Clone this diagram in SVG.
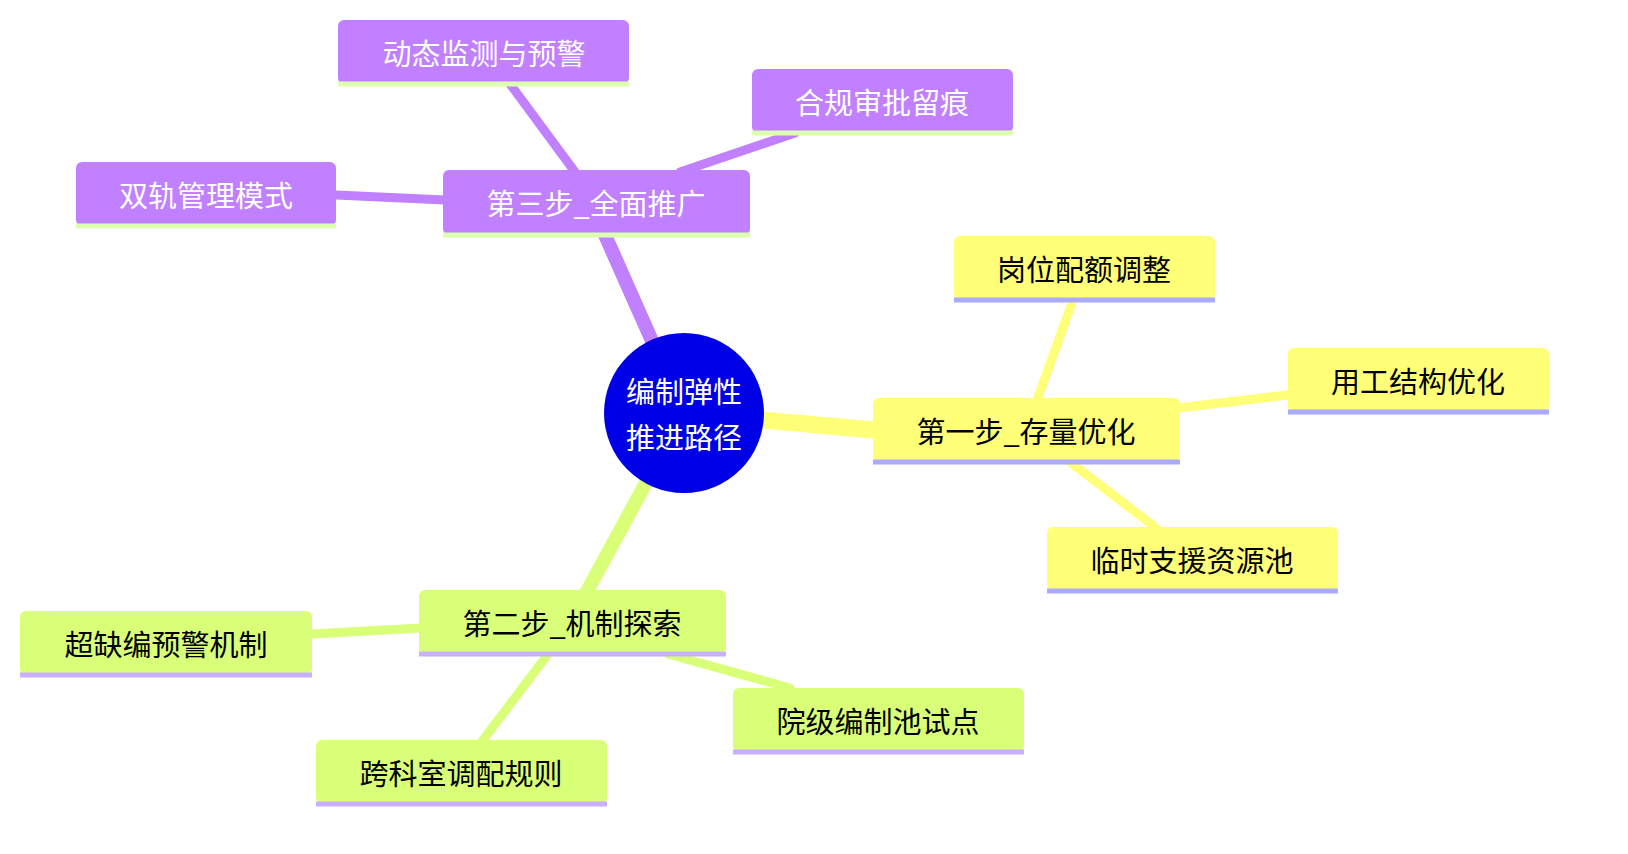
<svg xmlns="http://www.w3.org/2000/svg" width="1628" height="854" viewBox="0 0 1628 854">
<style>
text{font-family:"Noto Sans CJK SC","Noto Sans",sans-serif;font-size:29px;text-anchor:middle;dominant-baseline:central}
.p rect{fill:#c080ff}.p text{fill:#fff}.p line{stroke:#dcffb0}
.y rect{fill:#ffff78}.y text{fill:#000}.y line{stroke:#aaaaff}
.g rect{fill:#d9ff78}.g text{fill:#000}.g line{stroke:#c9b0ff}
.p line,.y line,.g line{stroke-width:5}
#edges line{stroke-linecap:round}
</style>
<rect width="1628" height="854" fill="#fff"/>
<g id="edges" fill="none">
<line x1="684" y1="413" x2="873" y2="430" stroke="#ffff78" stroke-width="17"/>
<line x1="684" y1="413" x2="605" y2="235" stroke="#c080ff" stroke-width="14"/>
<line x1="684" y1="413" x2="585" y2="595" stroke="#d9ff78" stroke-width="14"/>
<line x1="575" y1="172" x2="510" y2="84" stroke="#c080ff" stroke-width="9"/>
<line x1="680" y1="172" x2="795" y2="133" stroke="#c080ff" stroke-width="9"/>
<line x1="445" y1="200" x2="336" y2="195" stroke="#c080ff" stroke-width="9"/>
<line x1="1037" y1="400" x2="1073" y2="300" stroke="#ffff78" stroke-width="9"/>
<line x1="1178" y1="408" x2="1288" y2="395" stroke="#ffff78" stroke-width="9"/>
<line x1="1070" y1="462" x2="1155" y2="527" stroke="#ffff78" stroke-width="9"/>
<line x1="421" y1="628" x2="312" y2="634" stroke="#d9ff78" stroke-width="9"/>
<line x1="548" y1="654" x2="483" y2="740" stroke="#d9ff78" stroke-width="9"/>
<line x1="668" y1="654" x2="790" y2="688" stroke="#d9ff78" stroke-width="9"/>
</g>
<g id="root"><circle cx="684" cy="413" r="80" fill="#0000e6"/><text x="684" y="390" fill="#fff">编制弹性</text><text x="684" y="436" fill="#fff">推进路径</text></g>
<g id="s1" class="y"><rect x="873" y="398" width="307" height="64" rx="6"/><line x1="873" y1="462" x2="1180" y2="462"/><text x="1026" y="430">第一步_存量优化</text></g>
<g id="s1a" class="y"><rect x="954" y="236" width="261" height="64" rx="6"/><line x1="954" y1="300" x2="1215" y2="300"/><text x="1084" y="268">岗位配额调整</text></g>
<g id="s1b" class="y"><rect x="1288" y="348" width="261" height="64" rx="6"/><line x1="1288" y1="412" x2="1549" y2="412"/><text x="1418" y="380">用工结构优化</text></g>
<g id="s1c" class="y"><rect x="1047" y="527" width="291" height="64" rx="6"/><line x1="1047" y1="591" x2="1338" y2="591"/><text x="1192" y="559">临时支援资源池</text></g>
<g id="s3" class="p"><rect x="443" y="170" width="307" height="65" rx="6"/><line x1="443" y1="235" x2="750" y2="235"/><text x="596" y="202">第三步_全面推广</text></g>
<g id="s3a" class="p"><rect x="338" y="20" width="291" height="64" rx="6"/><line x1="338" y1="84" x2="629" y2="84"/><text x="484" y="52">动态监测与预警</text></g>
<g id="s3b" class="p"><rect x="752" y="69" width="261" height="64" rx="6"/><line x1="752" y1="133" x2="1013" y2="133"/><text x="882" y="101">合规审批留痕</text></g>
<g id="s3c" class="p"><rect x="76" y="162" width="260" height="64" rx="6"/><line x1="76" y1="226" x2="336" y2="226"/><text x="206" y="194">双轨管理模式</text></g>
<g id="s2" class="g"><rect x="419" y="590" width="307" height="64" rx="6"/><line x1="419" y1="654" x2="726" y2="654"/><text x="572" y="622">第二步_机制探索</text></g>
<g id="s2a" class="g"><rect x="20" y="611" width="292" height="64" rx="6"/><line x1="20" y1="675" x2="312" y2="675"/><text x="166" y="643">超缺编预警机制</text></g>
<g id="s2b" class="g"><rect x="316" y="740" width="291" height="64" rx="6"/><line x1="316" y1="804" x2="607" y2="804"/><text x="461" y="772">跨科室调配规则</text></g>
<g id="s2c" class="g"><rect x="733" y="688" width="291" height="64" rx="6"/><line x1="733" y1="752" x2="1024" y2="752"/><text x="878" y="720">院级编制池试点</text></g>
</svg>
